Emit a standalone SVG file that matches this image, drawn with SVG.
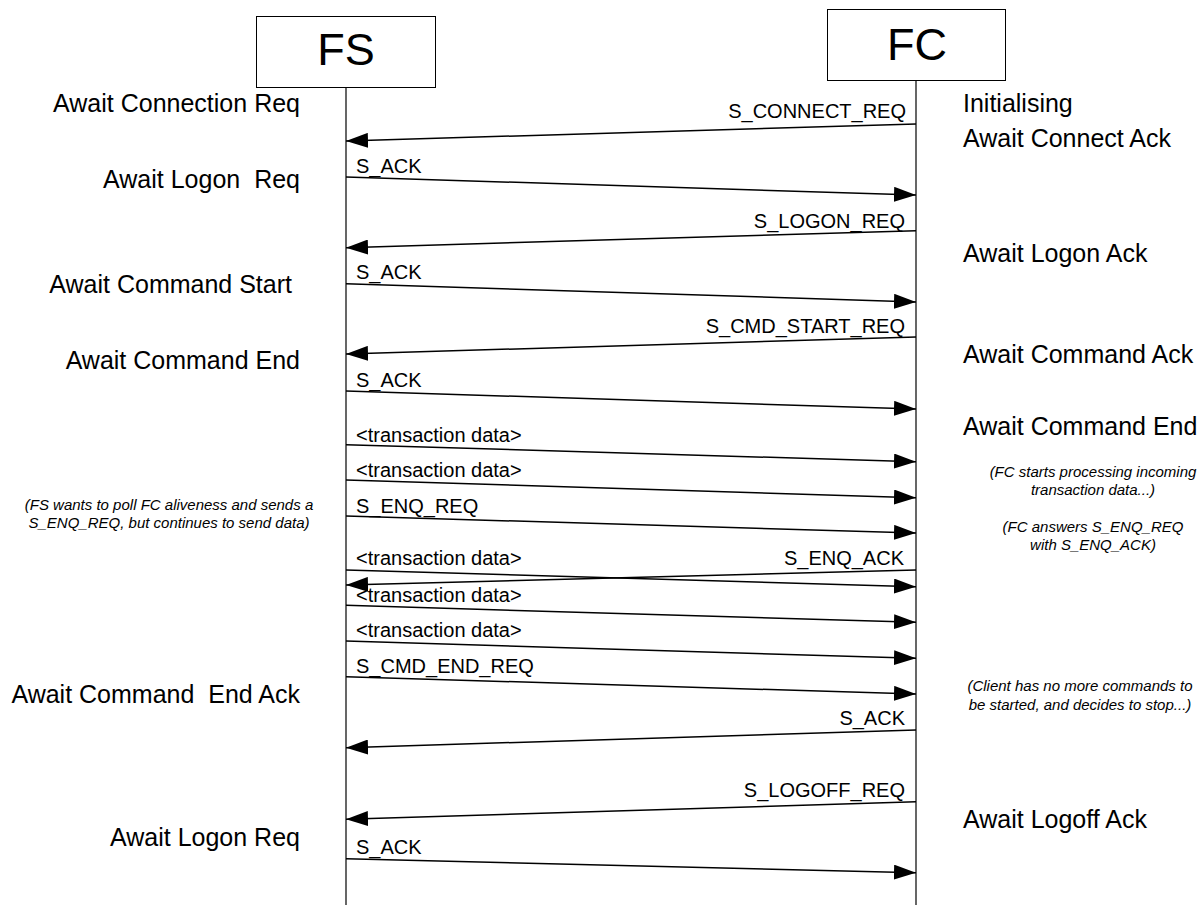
<svg xmlns="http://www.w3.org/2000/svg" width="1202" height="905" viewBox="0 0 1202 905">
<style>
.box{fill:#fff;stroke:#000;stroke-width:1}
.life{stroke:#000;stroke-width:1.2;fill:none}
.msg{stroke:#000;stroke-width:1.5;fill:none;marker-end:url(#ah)}
.title{font-family:"Liberation Sans",Arial,sans-serif;font-size:45px;fill:#000;text-anchor:middle}
.state{font-family:"Liberation Sans",Arial,sans-serif;font-size:25px;fill:#000}
.lbl{font-family:"Liberation Sans",Arial,sans-serif;font-size:20px;fill:#000}
.note{font-family:"Liberation Sans",Arial,sans-serif;font-size:15px;font-style:italic;fill:#000;text-anchor:middle}
.end{text-anchor:end}
</style>
<defs>
<marker id="ah" markerUnits="userSpaceOnUse" markerWidth="22" markerHeight="15" refX="22" refY="7.5" orient="auto">
<path d="M0,0 L22,7.5 L0,15 z" fill="#000"/>
</marker>
</defs>
<rect width="1202" height="905" fill="#fff"/>
<g id="FS">
<rect class="box" x="256.5" y="16.5" width="179" height="71"/>
<text class="title" x="346" y="65">FS</text>
<line class="life" x1="346" y1="87" x2="346" y2="905"/>
</g>
<g id="FC">
<rect class="box" x="827.5" y="9.5" width="178" height="71"/>
<text class="title" x="917" y="60">FC</text>
<line class="life" x1="916" y1="80" x2="916" y2="905"/>
</g>
<g id="fs-states">
<text class="state end" x="300" y="112" xml:space="preserve">Await Connection Req</text>
<text class="state end" x="300" y="188" xml:space="preserve">Await Logon  Req</text>
<text class="state end" x="292" y="293" xml:space="preserve">Await Command Start</text>
<text class="state end" x="300" y="369" xml:space="preserve">Await Command End</text>
<text class="state end" x="300" y="703" xml:space="preserve">Await Command  End Ack</text>
<text class="state end" x="300" y="846" xml:space="preserve">Await Logon Req</text>
<text class="note" x="169" y="510">(FS wants to poll FC aliveness and sends a</text>
<text class="note" x="169" y="528">S_ENQ_REQ, but continues to send data)</text>
</g>
<g id="fc-states">
<text class="state" x="963" y="112">Initialising</text>
<text class="state" x="963" y="147">Await Connect Ack</text>
<text class="state" x="963" y="262">Await Logon Ack</text>
<text class="state" x="963" y="363">Await Command Ack</text>
<text class="state" x="963" y="435">Await Command End</text>
<text class="state" x="963" y="828">Await Logoff Ack</text>
<text class="note" x="1093" y="477">(FC starts processing incoming</text>
<text class="note" x="1093" y="495">transaction data...)</text>
<text class="note" x="1093" y="532">(FC answers S_ENQ_REQ</text>
<text class="note" x="1093" y="550">with S_ENQ_ACK)</text>
<text class="note" x="1080" y="691">(Client has no more commands to</text>
<text class="note" x="1080" y="710">be started, and decides to stop...)</text>
</g>
<g id="connectors">
<line class="msg" x1="916" y1="124" x2="346" y2="141"/>
<line class="msg" x1="346" y1="177" x2="916" y2="195"/>
<line class="msg" x1="916" y1="230.7" x2="346" y2="247.7"/>
<line class="msg" x1="346" y1="283.7" x2="916" y2="302"/>
<line class="msg" x1="916" y1="337" x2="346" y2="354"/>
<line class="msg" x1="346" y1="391" x2="916" y2="409"/>
<line class="msg" x1="346" y1="444.7" x2="916" y2="461.7"/>
<line class="msg" x1="346" y1="480" x2="916" y2="497.7"/>
<line class="msg" x1="346" y1="516" x2="916" y2="533"/>
<line class="msg" x1="346" y1="570" x2="916" y2="586.7"/>
<line class="msg" x1="916" y1="570" x2="346" y2="585"/>
<line class="msg" x1="346" y1="605.3" x2="916" y2="622.3"/>
<line class="msg" x1="346" y1="641" x2="916" y2="658.3"/>
<line class="msg" x1="346" y1="676.7" x2="916" y2="694"/>
<line class="msg" x1="916" y1="730" x2="346" y2="747.7"/>
<line class="msg" x1="916" y1="801.7" x2="346" y2="819.3"/>
<line class="msg" x1="346" y1="858.7" x2="916" y2="872.7"/>
<text class="lbl end" x="906" y="118">S_CONNECT_REQ</text>
<text class="lbl" x="356" y="172.7">S_ACK</text>
<text class="lbl end" x="905" y="228">S_LOGON_REQ</text>
<text class="lbl" x="356" y="279.3">S_ACK</text>
<text class="lbl end" x="905" y="333">S_CMD_START_REQ</text>
<text class="lbl" x="356" y="386.5">S_ACK</text>
<text class="lbl" x="356" y="441.7">&lt;transaction data&gt;</text>
<text class="lbl" x="356" y="476.7">&lt;transaction data&gt;</text>
<text class="lbl" x="356" y="512.7">S_ENQ_REQ</text>
<text class="lbl" x="356" y="565">&lt;transaction data&gt;</text>
<text class="lbl end" x="904" y="565">S_ENQ_ACK</text>
<text class="lbl" x="356" y="601.7">&lt;transaction data&gt;</text>
<text class="lbl" x="356" y="636.7">&lt;transaction data&gt;</text>
<text class="lbl" x="356" y="673">S_CMD_END_REQ</text>
<text class="lbl end" x="905" y="725">S_ACK</text>
<text class="lbl end" x="905" y="797">S_LOGOFF_REQ</text>
<text class="lbl" x="356" y="854.3">S_ACK</text>
</g>
</svg>
